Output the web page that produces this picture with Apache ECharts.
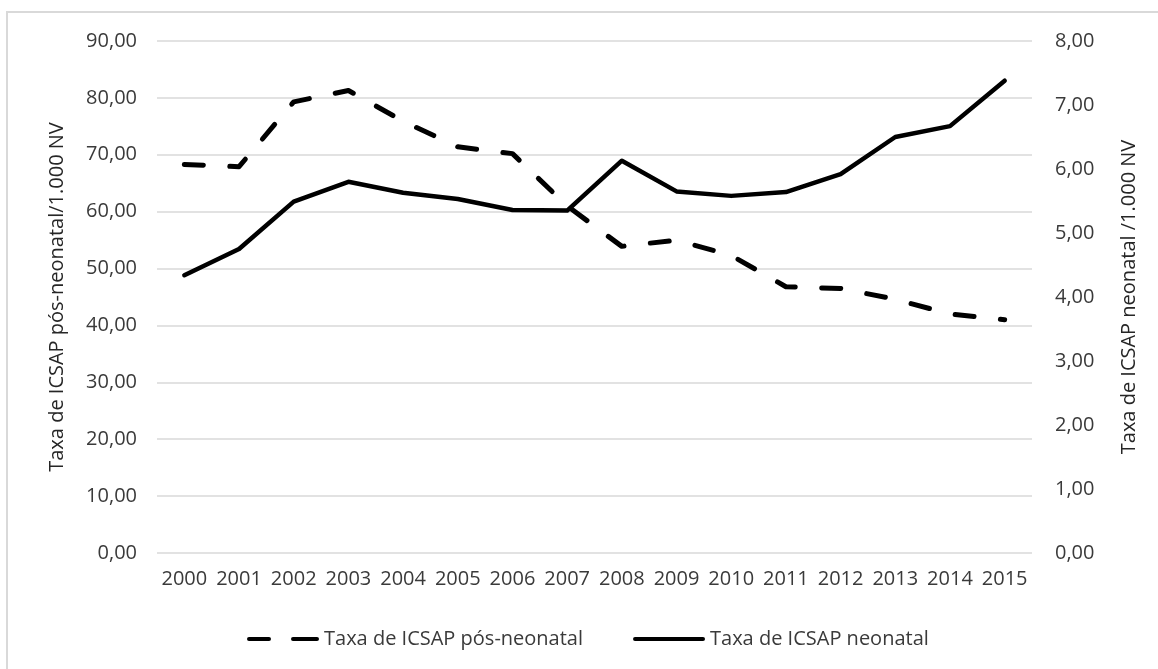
<!DOCTYPE html>
<html>
<head>
<meta charset="utf-8">
<script src="https://cdn.jsdelivr.net/npm/echarts@6/dist/echarts.min.js"></script>
<style>
  html, body { margin: 0; padding: 0; background: #ffffff; }
  #chart { width: 1158px; height: 669px; }
</style>
</head>
<body>
<div id="chart"></div>
<script>
// Anos da série histórica
const years = ['2000', '2001', '2002', '2003', '2004', '2005', '2006', '2007',
               '2008', '2009', '2010', '2011', '2012', '2013', '2014', '2015'];

// Taxa de ICSAP pós-neonatal por 1.000 NV (eixo esquerdo)
const posNeonatal = [68.3, 67.9, 79.3, 81.3, 75.9, 71.4, 70.2, 61.0,
                     53.9, 55.0, 52.3, 46.8, 46.5, 44.6, 42.0, 41.0];

// Taxa de ICSAP neonatal por 1.000 NV (eixo direito)
const neonatal = [4.34, 4.75, 5.49, 5.80, 5.63, 5.53, 5.36, 5.35,
                  6.13, 5.65, 5.58, 5.64, 5.92, 6.50, 6.67, 7.38];

const seriesNames = ['Taxa de ICSAP pós-neonatal', 'Taxa de ICSAP neonatal'];
const axisTitles = ['Taxa de ICSAP pós-neonatal/1.000 NV', 'Taxa de ICSAP neonatal /1.000 NV'];

const FONT = '"Open Sans", "DejaVu Sans", sans-serif';
const TEXT = '#3a3a3a';

// Vírgula decimal, duas casas
const fmt = v => v.toFixed(2).replace('.', ',');

// Ícones da legenda: dois traços (tracejada) e uma barra contínua
const dashIcon = 'path://M2,0 H22 A2,2 0 0 1 22,4 H2 A2,2 0 0 1 2,0 Z M46,0 H70 A2,2 0 0 1 70,4 H46 A2,2 0 0 1 46,0 Z';
const solidIcon = 'path://M2,0 H70 A2,2 0 0 1 70,4 H2 A2,2 0 0 1 2,0 Z';

const chart = echarts.init(document.getElementById('chart'), null, { renderer: 'canvas' });

chart.setOption({
  backgroundColor: '#ffffff',
  animation: false,
  textStyle: { fontFamily: FONT },
  graphic: [{
    type: 'rect',
    silent: true,
    z: -10,
    shape: { x: 7, y: 12, width: 1400, height: 900 },
    style: { fill: 'none', stroke: '#d9d9d9', lineWidth: 2 }
  }],
  grid: { left: 157, right: 126, top: 41, bottom: 116, containLabel: false },
  legend: {
    data: [
      { name: seriesNames[0], icon: dashIcon },
      { name: seriesNames[1], icon: solidIcon }
    ],
    left: 242,
    top: 624,
    itemWidth: 72,
    itemHeight: 4.5,
    itemGap: 50,
    itemStyle: { color: '#000000', borderWidth: 0 },
    lineStyle: { width: 0, opacity: 0 },
    textStyle: { fontFamily: FONT, fontSize: 20, color: TEXT, padding: [0, 0, 0, 0] }
  },
  xAxis: {
    type: 'category',
    data: years,
    boundaryGap: true,
    axisLine: { show: false },
    axisTick: { show: false },
    axisLabel: { fontFamily: FONT, fontSize: 20, color: TEXT, margin: 16, interval: 0 }
  },
  yAxis: [{
    type: 'value',
    position: 'left',
    min: 0, max: 90, interval: 10,
    name: axisTitles[0],
    nameLocation: 'middle',
    nameGap: 90,
    nameTextStyle: { fontFamily: FONT, fontSize: 20, color: '#262626' },
    axisLine: { show: false },
    axisTick: { show: false },
    axisLabel: { fontFamily: FONT, fontSize: 20, color: TEXT, margin: 20, formatter: fmt },
    splitLine: { lineStyle: { color: '#d9d9d9', width: 1.5 } }
  }, {
    type: 'value',
    position: 'right',
    min: 0, max: 8, interval: 1,
    name: axisTitles[1],
    nameLocation: 'middle',
    nameGap: 87,
    nameTextStyle: { fontFamily: FONT, fontSize: 20, color: '#262626' },
    axisLine: { show: false },
    axisTick: { show: false },
    axisLabel: { fontFamily: FONT, fontSize: 20, color: TEXT, margin: 23, formatter: fmt },
    splitLine: { show: false }
  }],
  series: [{
    name: seriesNames[0],
    type: 'line',
    yAxisIndex: 0,
    data: posNeonatal,
    showSymbol: false,
    symbol: 'none',
    color: '#000000',
    lineStyle: { color: '#000000', width: 5, type: [19, 26.5], cap: 'round', join: 'round' },
    z: 3
  }, {
    name: seriesNames[1],
    type: 'line',
    yAxisIndex: 1,
    data: neonatal,
    showSymbol: false,
    symbol: 'none',
    color: '#000000',
    lineStyle: { color: '#000000', width: 4.5, type: 'solid', cap: 'round', join: 'round' },
    z: 2
  }]
});
</script>
</body>
</html>
